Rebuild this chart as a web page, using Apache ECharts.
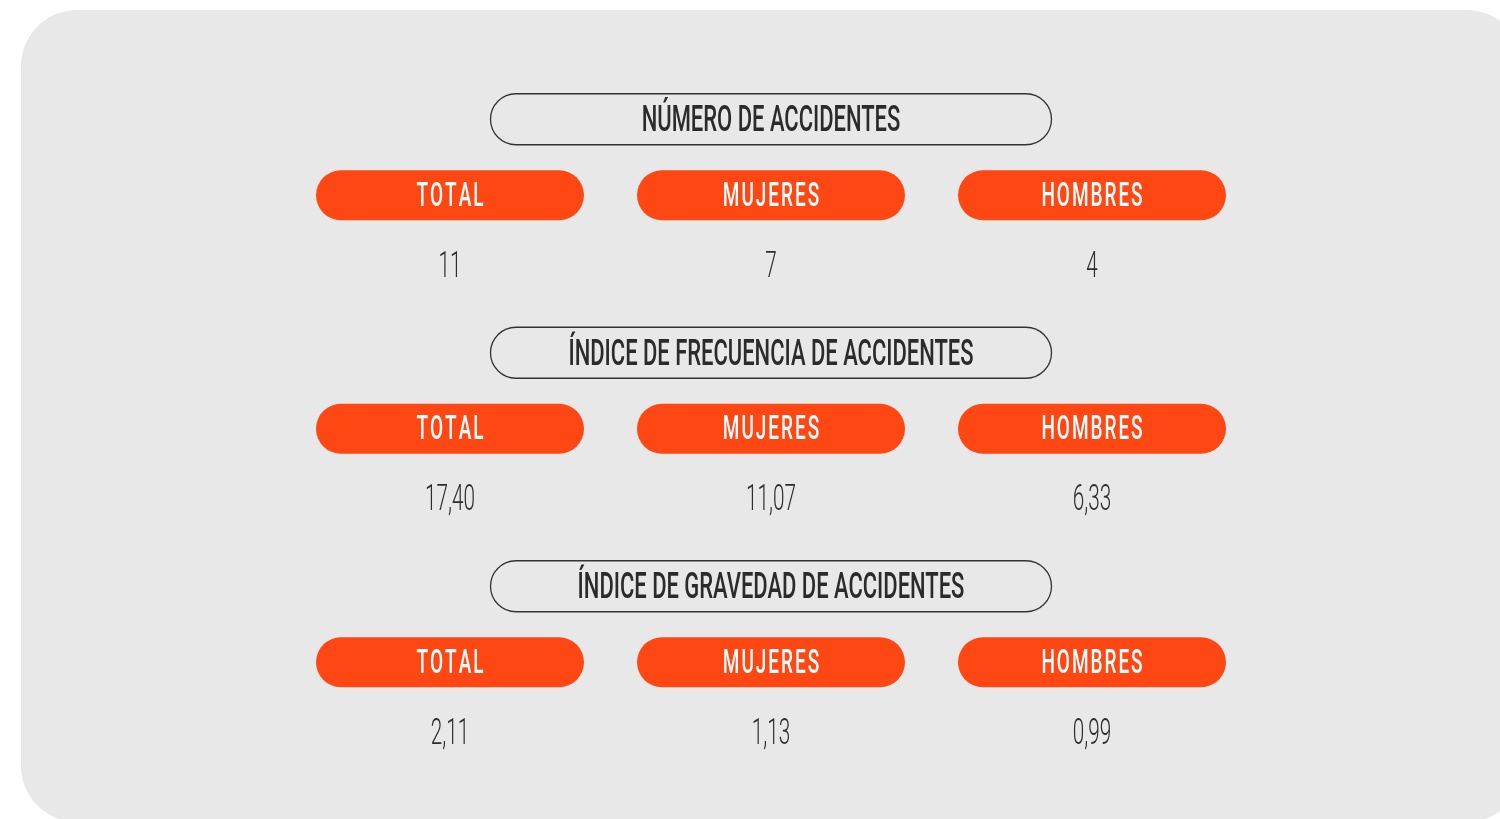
<!DOCTYPE html>
<html>
<head>
<meta charset="utf-8">
<title>Accidentes</title>
<script src="https://cdn.jsdelivr.net/npm/echarts@6/dist/echarts.min.js"></script>
<style>
  html, body { margin: 0; padding: 0; background: #ffffff; }
  #chart { width: 1500px; height: 819px; }
</style>
</head>
<body>
<div id="chart"></div>
<script>
// datos del cuadro
const categories = ['TOTAL', 'MUJERES', 'HOMBRES'];
const sections = [
  'NÚMERO DE ACCIDENTES',
  'ÍNDICE DE FRECUENCIA DE ACCIDENTES',
  'ÍNDICE DE GRAVEDAD DE ACCIDENTES'
];
const numeroAccidentes = [11, 7, 4];
const indiceFrecuencia = [17.40, 11.07, 6.33];
const indiceGravedad = [2.11, 1.13, 0.99];
const decimals = [0, 2, 2];

const ORANGE = '#ff4713';
const DARK = '#2b2b2b';

// [columna, fila, valor]
const cellData = [];
[numeroAccidentes, indiceFrecuencia, indiceGravedad].forEach((vals, row) => {
  vals.forEach((v, col) => cellData.push([col, row, v]));
});
const titleData = sections.map((s, row) => [1, row]);

function fmt(v, d) {
  return v.toFixed(d).replace('.', ',');
}
function spaced(s, sep) {
  return Array.from(s).join(sep);
}

function renderCell(params, api) {
  const col = api.value(0);
  const row = api.value(1);
  const val = api.value(2);
  const p = api.coord([col, row]);
  const w = 268, h = 50;
  return {
    type: 'group',
    children: [
      {
        type: 'rect',
        shape: { x: p[0] - w / 2, y: p[1] - h / 2, width: w, height: h, r: h / 2 },
        style: { fill: ORANGE }
      },
      {
        type: 'text',
        x: p[0], y: p[1] + 2,
        scaleX: 0.56,
        style: {
          text: spaced(categories[col], '\u200A'),
          fill: '#ffffff',
          font: '500 34px Roboto',
          align: 'center', verticalAlign: 'middle',
          textAlign: 'center', textVerticalAlign: 'middle'
        }
      },
      {
        type: 'text',
        x: p[0], y: p[1] + 72,
        scaleX: 0.56,
        style: {
          text: fmt(val, decimals[row]),
          fill: '#2d2d2d',
          font: '300 37px Roboto',
          align: 'center', verticalAlign: 'middle',
          textAlign: 'center', textVerticalAlign: 'middle'
        }
      }
    ]
  };
}

function renderTitle(params, api) {
  const p = api.coord([api.value(0), api.value(1)]);
  const w = 561, h = 51;
  const cy = p[1] - 76;
  return {
    type: 'group',
    children: [
      {
        type: 'rect',
        shape: { x: p[0] - w / 2, y: cy - h / 2, width: w, height: h, r: h / 2 },
        style: { fill: 'none', stroke: '#333333', lineWidth: 1.3 }
      },
      {
        type: 'text',
        x: p[0], y: cy + 3,
        scaleX: 0.61,
        style: {
          text: sections[params.dataIndex],
          fill: DARK,
          font: '500 36px Roboto',
          align: 'center', verticalAlign: 'middle',
          textAlign: 'center', textVerticalAlign: 'middle'
        }
      }
    ]
  };
}

const chart = echarts.init(document.getElementById('chart'), null, { renderer: 'canvas' });
chart.setOption({
  backgroundColor: '#ffffff',
  animation: false,
  graphic: [
    {
      type: 'rect',
      z: -10,
      shape: { x: 21, y: 10, width: 1502, height: 812, r: 56 },
      style: { fill: '#e8e8e8' }
    }
  ],
  grid: { left: 289.5, top: 78.5, width: 963, height: 700.5 },
  xAxis: {
    type: 'category',
    data: categories,
    show: false
  },
  yAxis: {
    type: 'category',
    data: sections,
    inverse: true,
    show: false
  },
  series: [
    {
      type: 'custom',
      name: 'titulos',
      clip: false,
      data: titleData,
      renderItem: renderTitle
    },
    {
      type: 'custom',
      name: 'valores',
      clip: false,
      data: cellData,
      renderItem: renderCell
    }
  ]
});
</script>
</body>
</html>
